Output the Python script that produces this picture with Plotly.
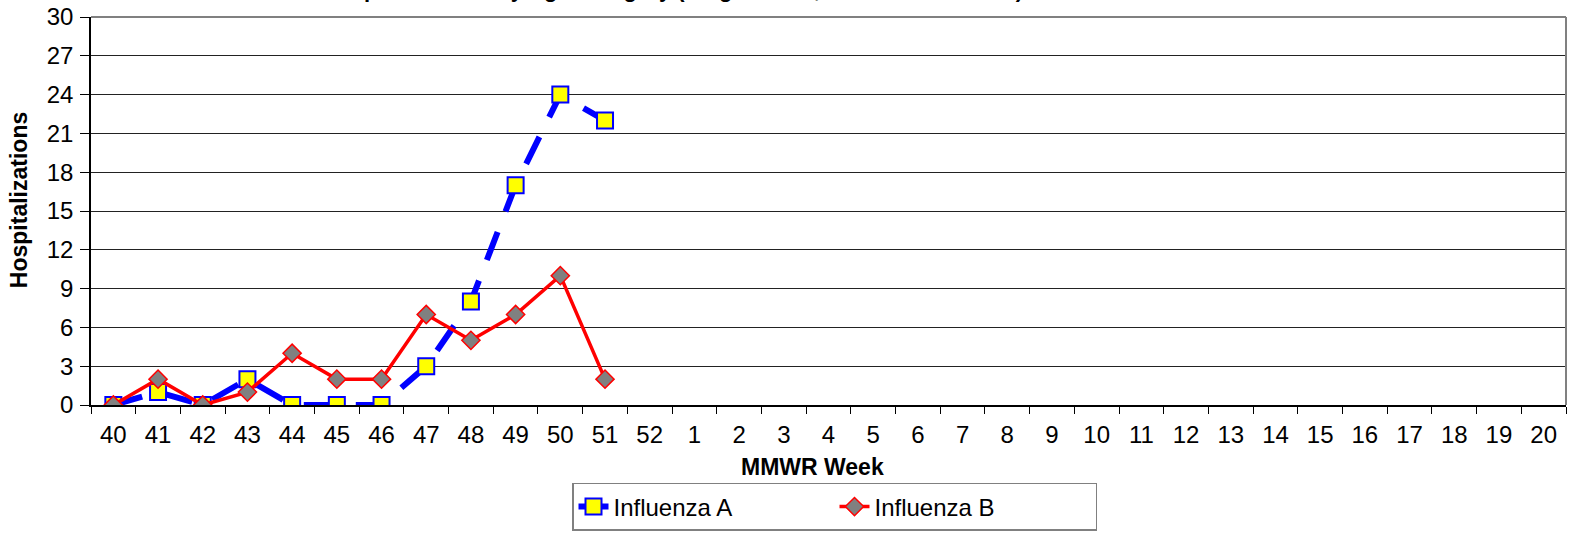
import plotly.graph_objects as go

weeks = ["40", "41", "42", "43", "44", "45", "46", "47", "48", "49", "50", "51", "52",
         "1", "2", "3", "4", "5", "6", "7", "8", "9", "10", "11", "12", "13", "14",
         "15", "16", "17", "18", "19", "20"]
flu_a = [0, 1, 0, 2, 0, 0, 0, 3, 8, 17, 24, 22]
flu_b = [0, 2, 0, 1, 4, 2, 2, 7, 5, 7, 10, 2]
y_ticks = [0, 3, 6, 9, 12, 15, 18, 21, 24, 27, 30]

FONT = "Liberation Sans, Arial, sans-serif"

fig = go.Figure()
fig.add_trace(go.Scatter(
    x=weeks[:len(flu_a)], y=flu_a, name="Influenza A", mode="lines+markers",
    line=dict(color="#0000FF", width=6, dash="30px,22px"),
    marker=dict(symbol="square", size=16, color="#FFFF00",
                line=dict(color="#0000FF", width=2)),
))
fig.add_trace(go.Scatter(
    x=weeks[:len(flu_b)], y=flu_b, name="Influenza B", mode="lines+markers",
    line=dict(color="#FF0000", width=3.5),
    marker=dict(symbol="diamond", size=14, color="#808080",
                line=dict(color="#FF0000", width=1.5)),
))

fig.update_layout(
    width=1570, height=533,
    margin=dict(l=91, r=4, t=17, b=128, autoexpand=False),
    paper_bgcolor="white", plot_bgcolor="white",
    font=dict(family=FONT, size=24, color="black"),
    showlegend=True,
    legend=dict(
        orientation="h", x=(572 - 91) / 1475, xanchor="left", y=-0.201, yanchor="top",
        bordercolor="#808080", borderwidth=1.5, bgcolor="white",
        font=dict(family=FONT, size=24, color="black"),
        entrywidth=216, entrywidthmode="pixels",
        itemsizing="trace",
    ),
    xaxis=dict(
        type="category", categoryorder="array", categoryarray=weeks,
        range=[-0.5, len(weeks) - 0.5],
        tickmode="array", tickvals=weeks, ticktext=weeks,
        tickson="boundaries", ticks="outside", ticklen=7, tickcolor="black",
        tickwidth=1, showline=True, linecolor="black", linewidth=1.5,
        showgrid=False, zeroline=False,
        tickfont=dict(family=FONT, size=24, color="black"),
        ticklabelstandoff=7,
    ),
    yaxis=dict(
        range=[0, 30], tickmode="array", tickvals=y_ticks,
        ticks="outside", ticklen=9, tickcolor="black", tickwidth=1,
        showline=True, linecolor="black", linewidth=1.5,
        showgrid=True, gridcolor="#222222", gridwidth=1, zeroline=False,
        tickfont=dict(family=FONT, size=24, color="black"),
        ticklabelstandoff=2,
    ),
    annotations=[
        dict(text="<b>Hospitalizations</b>", xref="paper", yref="paper",
             x=(19 - 91) / 1475, xanchor="center", y=0.528, yanchor="middle",
             textangle=-90, showarrow=False,
             font=dict(family=FONT, size=23, color="black")),
        dict(text="<b>MMWR Week</b>", xref="paper", yref="paper",
             x=(812 - 91) / 1475, xanchor="center", y=-0.122, yanchor="top",
             showarrow=False, font=dict(family=FONT, size=23, color="black")),
        dict(text="<b>Influenza Hospitalizations by Age Category (Single Week, 2012-2013 Season)</b>",
             xref="paper", yref="paper", x=0.36, xanchor="center",
             y=1 + 13 / 388, yanchor="bottom", showarrow=False,
             font=dict(family=FONT, size=22, color="black")),
    ],
    shapes=[
        dict(type="line", xref="paper", yref="paper", x0=0, x1=1, y0=1, y1=1,
             line=dict(color="#808080", width=2), layer="above"),
        dict(type="line", xref="paper", yref="paper", x0=1, x1=1, y0=0, y1=1,
             line=dict(color="#808080", width=2), layer="above"),
    ],
)

fig.write_html("out.html", config={"displayModeBar": False},
               post_script="document.body.style.margin='0px';")
